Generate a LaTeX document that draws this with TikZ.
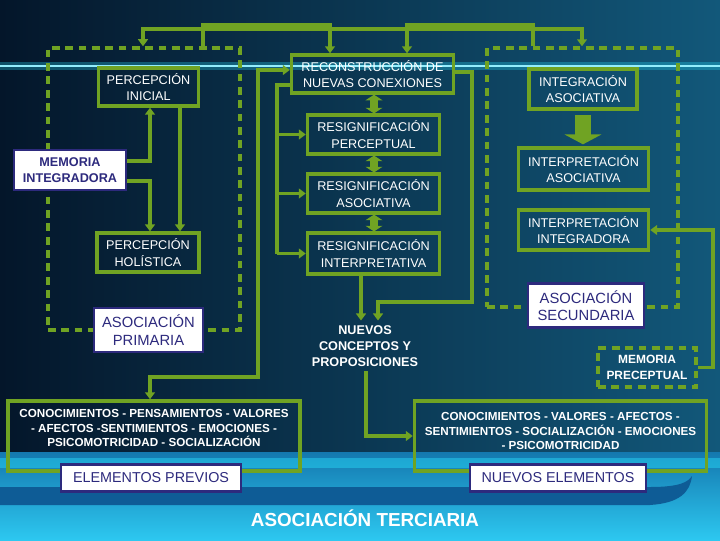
\documentclass[tikz,border=0pt]{standalone}
\usepackage{fontspec}
\setmainfont{Liberation Sans}
\usetikzlibrary{arrows.meta, positioning}
\definecolor{linkgreen}{RGB}{112,163,35}
\definecolor{boxblue}{RGB}{45,42,125}
\definecolor{bgdark}{RGB}{4,22,42}
\definecolor{bgteal}{RGB}{18,88,122}
\definecolor{glowcyan}{RGB}{40,220,250}
\definecolor{bandtop}{RGB}{20,120,175}
\definecolor{bandbot}{RGB}{45,200,240}
\definecolor{bandblue}{RGB}{14,92,150}

\begin{document}
\begin{tikzpicture}[x=0.025cm, y=-0.025cm,
    gbox/.style={draw=linkgreen, line width=2.4pt, text=white, align=center,
                 font=\fontsize{9}{11.5}\selectfont, inner sep=2pt},
    wbox/.style={draw=boxblue, line width=2pt, fill=white, text=boxblue,
                 align=center, font=\fontsize{10.5}{12.5}\selectfont},
    dbox/.style={draw=linkgreen, line width=2.4pt, dash pattern=on 5.5pt off 4pt},
    txt/.style={text=white, align=center, font=\bfseries\fontsize{8.3}{10.6}\selectfont},
    arrow/.style={draw=linkgreen, line width=2.4pt, -{Triangle[length=5pt, width=7pt]}},
    twoway/.style={draw=linkgreen, line width=6pt,
                   {Triangle[length=4pt, width=12pt]}-{Triangle[length=4pt, width=12pt]}},
    bigarrow/.style={draw=linkgreen, line width=12pt, -{Triangle[length=7pt, width=26pt]}}
  ]
    %% Background
    \useasboundingbox (0,0) rectangle (720,540);
    \shade[left color=bgdark, right color=bgteal] (0,0) rectangle (720,540);
    \fill[glowcyan, opacity=0.3] (0,62) rectangle (720,70);
    \draw[glowcyan!50!white, line width=1.5pt] (0,66) -- (720,66);
    \shade[top color=bandtop, bottom color=bandbot] (0,452) rectangle (720,540);
    \fill[glowcyan, opacity=0.45] (0,458) rectangle (720,468);
    \fill[bandblue] (0,487) -- (650,487) .. controls (680,487) and (688,482) .. (692,476)
      .. controls (690,492) and (680,503) .. (650,505) -- (0,505) -- cycle;

    %% Dashed groups
    \node[dbox, minimum width=4.8cm, minimum height=7.05cm] (grpL) at (144,189) {};
    \node[dbox, minimum width=4.775cm, minimum height=6.475cm] (grpR) at (582.5,177.5) {};

    %% Left column
    \node[gbox, minimum width=2.5cm, minimum height=0.95cm] (inicial) at (148.5,87)
      {PERCEPCIÓN\\INICIAL};
    \node[wbox, font=\bfseries\fontsize{9}{11}\selectfont, minimum width=2.8cm,
          minimum height=1.0cm] (memI) at (70,170) {MEMORIA\\INTEGRADORA};
    \node[gbox, minimum width=2.55cm, minimum height=0.97cm] (holis) at (148,252.5)
      {PERCEPCIÓN\\HOLÍSTICA};
    \node[wbox, minimum width=2.72cm, minimum height=1.1cm] (prim) at (148.5,330)
      {ASOCIACIÓN\\PRIMARIA};

    %% Middle column
    \node[gbox, minimum width=4.05cm, minimum height=0.95cm] (recon) at (372.5,74)
      {RECONSTRUCCIÓN DE\\NUEVAS CONEXIONES};
    \node[gbox, minimum width=3.3cm, minimum height=0.97cm] (resP) at (373.5,134.5)
      {RESIGNIFICACIÓN\\PERCEPTUAL};
    \node[gbox, minimum width=3.3cm, minimum height=0.97cm] (resA) at (373.5,193.5)
      {RESIGNIFICACIÓN\\ASOCIATIVA};
    \node[gbox, minimum width=3.3cm, minimum height=1.02cm] (resI) at (373.5,253.5)
      {RESIGNIFICACIÓN\\INTERPRETATIVA};
    \node[txt, font=\bfseries\fontsize{9}{11.4}\selectfont] (nuevos) at (365,346)
      {NUEVOS\\CONCEPTOS Y\\PROPOSICIONES};

    %% Right column
    \node[gbox, minimum width=2.7cm, minimum height=1.0cm] (integ) at (583,89)
      {INTEGRACIÓN\\ASOCIATIVA};
    \node[gbox, minimum width=3.25cm, minimum height=1.05cm] (interA) at (583.5,169)
      {INTERPRETACIÓN\\ASOCIATIVA};
    \node[gbox, minimum width=3.25cm, minimum height=1.0cm] (interI) at (583.5,230)
      {INTERPRETACIÓN\\INTEGRADORA};
    \node[wbox, minimum width=2.9cm, minimum height=1.08cm] (sec) at (586,305.5)
      {ASOCIACIÓN\\SECUNDARIA};
    \node[dbox, txt, font=\bfseries\fontsize{8.5}{11}\selectfont, minimum width=2.45cm,
          minimum height=0.98cm] (memP) at (647,367.5) {MEMORIA\\PRECEPTUAL};

    %% Bottom boxes
    \node[gbox, minimum width=7.3cm, minimum height=1.75cm] (conL) at (154,436) {};
    \node[txt] (conLtxt) at (154,428)
      {CONOCIMIENTOS - PENSAMIENTOS - VALORES\\- AFECTOS -SENTIMIENTOS - EMOCIONES -\\PSICOMOTRICIDAD - SOCIALIZACIÓN};
    \node[wbox, font=\fontsize{10.2}{12}\selectfont, minimum width=4.5cm,
          minimum height=0.66cm] (prev) at (151,478) {ELEMENTOS PREVIOS};
    \node[gbox, minimum width=7.3cm, minimum height=1.75cm] (conR) at (560.5,436) {};
    \node[txt] (conRtxt) at (560.5,431)
      {CONOCIMIENTOS - VALORES - AFECTOS -\\SENTIMIENTOS - SOCIALIZACIÓN - EMOCIONES\\- PSICOMOTRICIDAD};
    \node[wbox, font=\fontsize{10.2}{12}\selectfont, minimum width=4.4cm,
          minimum height=0.66cm] (nuevoE) at (558,478) {NUEVOS ELEMENTOS};
    \node[text=white, font=\bfseries\fontsize{13.4}{15}\selectfont] (terc) at (365,518)
      {ASOCIACIÓN TERCIARIA};

    %% Top connectors
    \coordinate (jL) at (203,29);
    \coordinate (jR) at (533,29);
    \draw[arrow] (grpL.north -| 203,0) -- (203,25) -| (recon.north -| 330,0);
    \draw[arrow] (grpR.north -| 533,0) -- (533,25) -| (recon.north -| 407,0);
    \draw[arrow] (jL) -| (grpR.north -| 582,0);
    \draw[arrow] (jR) -| (grpL.north -| 143,0);

    %% Left column arrows
    \draw[arrow] (memI.east |- 0,161) -| (inicial.south -| 150,0);
    \draw[arrow] (memI.east |- 0,181) -| (holis.north -| 150,0);
    \draw[arrow] (inicial.south -| 180,0) -- (holis.north -| 180,0);
    \draw[arrow, {Triangle[length=5pt, width=7pt]}-{Triangle[length=5pt, width=7pt]}]
      (recon.west |- 0,70) -| (258,377) -| (conL.north -| 150,0);

    %% Middle column arrows
    \draw[draw=linkgreen, line width=2.4pt] (recon.west |- 0,85) -| (resI.west -| 277,0);
    \draw[arrow] (resP.west -| 277,0) -- (resP.west);
    \draw[arrow] (resA.west -| 277,0) -- (resA.west);
    \draw[arrow] (resI.west -| 277,0) -- (resI.west);
    \draw[twoway] (recon.south -| 374,0) -- (resP.north -| 374,0);
    \draw[twoway] (resP.south -| 374,0) -- (resA.north -| 374,0);
    \draw[twoway] (resA.south -| 374,0) -- (resI.north -| 374,0);
    \draw[arrow] (resI.south -| 361,0) -- (nuevos.north -| 361,0);
    \draw[arrow] (recon.east |- 0,72) -| (472,302) -| (nuevos.north -| 378,0);
    \draw[arrow] (nuevos.south -| 366,0) |- (conR.west);

    %% Right column arrows
    \draw[bigarrow, shorten <=0.12cm, shorten >=0.05cm] (integ.south) -- (interA.north -| integ.south);
    \draw[arrow] (memP.east) -| (713,230) -- (interI.east);
  \end{tikzpicture}
\end{document}
